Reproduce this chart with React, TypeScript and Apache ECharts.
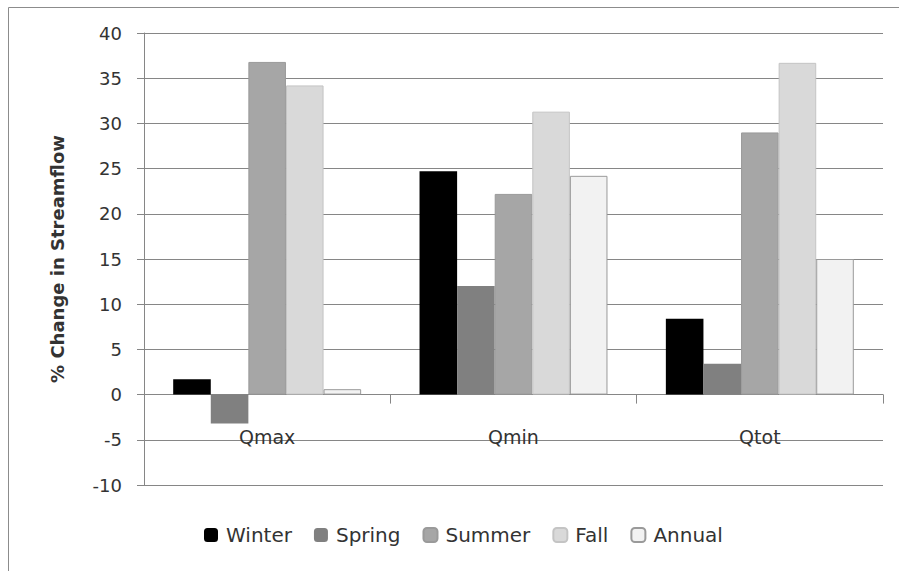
import React, { useEffect, useRef } from "react";
import * as echarts from "echarts";

const categories = ["Qmax", "Qmin", "Qtot"];
const seriesNames = ["Winter", "Spring", "Summer", "Fall", "Annual"];
const winter = [1.7, 24.7, 8.4];
const spring = [-3.2, 12.0, 3.4];
const summer = [36.8, 22.2, 29.0];
const fall = [34.2, 31.3, 36.7];
const annual = [0.6, 24.2, 15.0];
const yTicks = [-10, -5, 0, 5, 10, 15, 20, 25, 30, 35, 40];

const fills = ["#000000", "#808080", "#a6a6a6", "#d9d9d9", "#f2f2f2"];
const borders = ["#000000", "#808080", "#9a9a9a", "#c4c4c4", "#9a9a9a"];

const FONT = "DejaVu Sans";

export default function App() {
  const ref = useRef<HTMLDivElement>(null);
  useEffect(() => {
    if (!ref.current) return;
    const chart = echarts.init(ref.current, undefined, { renderer: "svg" });
    const data = [winter, spring, summer, fall, annual];
    chart.setOption({
      animation: false,
      backgroundColor: "#ffffff",
      textStyle: { fontFamily: FONT },
      grid: { left: 144, right: 16, top: 33, bottom: 86, containLabel: false },
      legend: {
        left: 199,
        top: 520,
        itemWidth: 14,
        itemHeight: 14,
        itemGap: 22,
        textStyle: { fontFamily: FONT, fontSize: 20, color: "#333333", padding: [0, 0, 0, 3] },
        data: seriesNames,
      },
      xAxis: {
        type: "category",
        data: categories,
        axisLine: { onZero: true, lineStyle: { color: "#868686", width: 1 } },
        axisTick: { show: true, alignWithLabel: false, length: 9, inside: false, lineStyle: { color: "#868686" } },
        axisLabel: { fontFamily: FONT, fontSize: 19, color: "#333333", margin: -58 },
        splitLine: { show: false },
      },
      yAxis: {
        type: "value",
        min: yTicks[0],
        max: yTicks[yTicks.length - 1],
        interval: 5,
        axisLine: { show: true, lineStyle: { color: "#868686", width: 1 } },
        axisTick: { show: true, length: 7, lineStyle: { color: "#868686" } },
        axisLabel: { fontFamily: FONT, fontSize: 18, color: "#333333", margin: 22 },
        splitLine: { show: true, lineStyle: { color: "#868686", width: 1 } },
        name: "% Change in Streamflow",
        nameLocation: "middle",
        nameGap: 78,
        nameRotate: 90,
        nameTextStyle: { fontFamily: FONT, fontSize: 18, fontWeight: "bold", color: "#333333" },
      },
      series: seriesNames.map((name, i) => ({
        name,
        type: "bar",
        data: data[i],
        barGap: "0%",
        barCategoryGap: "23.7%",
        itemStyle: { color: fills[i], borderColor: borders[i], borderWidth: i >= 2 ? 1 : 0 },
      })),
      graphic: [
        { type: "line", shape: { x1: 8.5, y1: 7.5, x2: 899, y2: 7.5 }, style: { stroke: "#8c8c8c", lineWidth: 1 } },
        { type: "line", shape: { x1: 8.5, y1: 7.5, x2: 8.5, y2: 571 }, style: { stroke: "#8c8c8c", lineWidth: 1 } },
      ],
    });
    return () => chart.dispose();
  }, []);
  return <div ref={ref} style={{ position: "absolute", left: 0, top: 0, width: 899, height: 571 }} />;
}
